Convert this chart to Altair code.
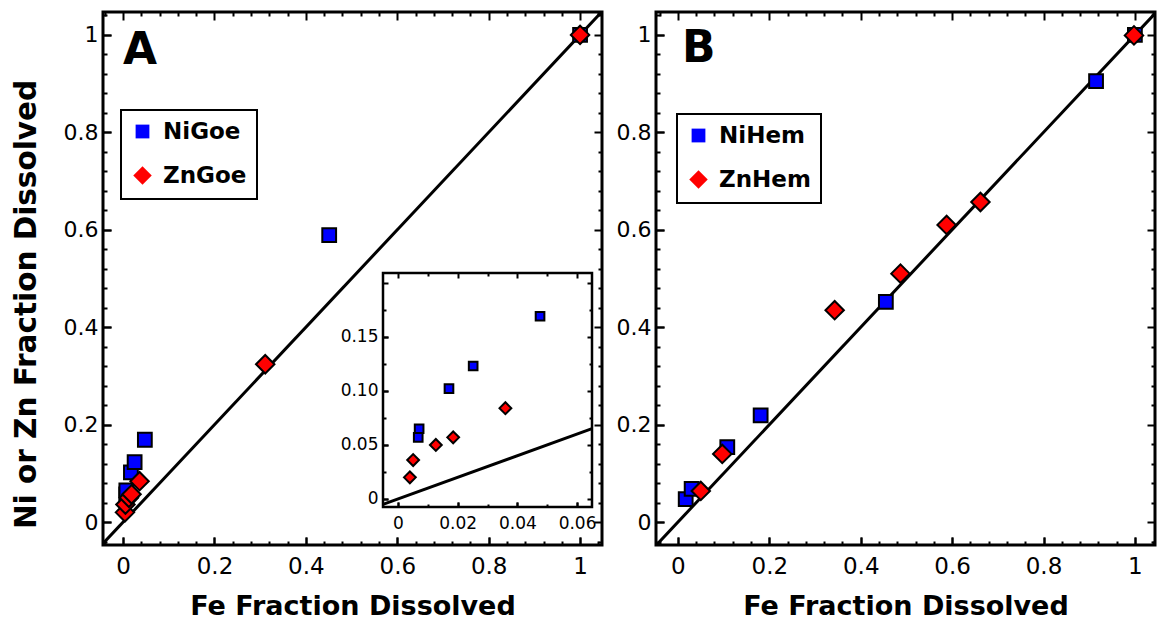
import altair as alt
import pandas as pd

FONT = "DejaVu Sans"

# ---------------- data ----------------
goe_ni_x = [0.0068, 0.0071, 0.0171, 0.0252, 0.0476, 0.451, 1.0]
goe_ni_y = [0.057, 0.065, 0.102, 0.123, 0.169, 0.589, 1.0]
goe_zn_x = [0.0040, 0.0051, 0.0127, 0.0185, 0.036, 0.311, 1.0]
goe_zn_y = [0.020, 0.036, 0.050, 0.057, 0.084, 0.324, 1.0]

hem_ni_x = [0.017, 0.030, 0.108, 0.181, 0.455, 0.915, 1.0]
hem_ni_y = [0.047, 0.068, 0.154, 0.219, 0.452, 0.905, 1.0]
hem_zn_x = [0.050, 0.097, 0.343, 0.487, 0.588, 0.662, 0.998]
hem_zn_y = [0.064, 0.140, 0.435, 0.510, 0.610, 0.657, 0.999]

series_a = ["NiGoe", "ZnGoe"]
series_b = ["NiHem", "ZnHem"]

one_to_one = [-0.1, 1.1]
inset_one_to_one = [-0.005, 0.065]

main_major = [0, 0.2, 0.4, 0.6, 0.8, 1]
main_ticks = [round(-0.04 + 0.04 * i, 2) for i in range(28)]
inset_x_major = [0, 0.02, 0.04, 0.06]
inset_y_major = [0, 0.05, 0.10, 0.15]
inset_x_ticks = [round(0.01 * i, 2) for i in range(7)]
inset_y_ticks = [round(0.025 * i, 3) for i in range(9)]

# ---------------- layout constants ----------------
W, H = 499, 533
A_X = [-0.044, 1.048]
B_X = [-0.048, 1.044]
MAIN_Y = [-0.047, 1.047]
INSET_X = [-0.005, 0.065]
INSET_Y = [-0.0074, 0.209]
INSET_XR = [280, 489]
INSET_YR = [495, 261]

MAJ_MAIN = "abs(datum.value * 5 - round(datum.value * 5)) < 0.001"
MAJ_IX = "abs(datum.value * 50 - round(datum.value * 50)) < 0.001"
MAJ_IY = "abs(datum.value * 20 - round(datum.value * 20)) < 0.001"


def tick_axis(orient, values, size_expr, show_labels=False, title=None,
              font_size=22, label_padding=16, offset=0, title_size=28, **extra):
    args = dict(
        orient=orient, values=values, domain=False, grid=False,
        ticks=True, tickColor="black", tickWidth=2,
        tickSize={"expr": size_expr},
        labels=show_labels, offset=offset, title=title, zindex=1,
    )
    if show_labels:
        args.update(labelFont=FONT, labelFontSize=font_size,
                    labelColor="black", labelPadding=label_padding,
                    labelFlush=False, labelOverlap=False)
    if title:
        args.update(titleFont=FONT, titleFontSize=title_size,
                    titleFontWeight="bold", titleColor="black")
    args.update(extra)
    return alt.Axis(**args)


def cond(maj, big, small):
    return f"({maj}) ? {-big} : {-small}"


def scale(dom, rng=None):
    if rng is None:
        return alt.Scale(domain=dom, nice=False, zero=False)
    return alt.Scale(domain=dom, range=rng, nice=False, zero=False)


def points_df(nx, ny, zx, zy, names):
    rows = []
    for x, y in zip(nx, ny):
        rows.append({"x": x, "y": y, "series": names[0], "ord": 0})
    for x, y in zip(zx, zy):
        rows.append({"x": x, "y": y, "series": names[1], "ord": 1})
    return pd.DataFrame(rows)


def panel(nx, ny, zx, zy, names, x_dom, letter, letter_xy, legend_xy,
          y_title=None, inset=False):
    xs = scale(x_dom)
    ys = scale(MAIN_Y)
    left_extra = {}
    if y_title:
        left_extra = dict(titlePadding=22, titleY=292)
    line = alt.Chart(pd.DataFrame({"x": one_to_one, "y": one_to_one})).mark_line(
        color="black", strokeWidth=3, clip=True
    ).encode(
        x=alt.X("x:Q", scale=xs,
                axis=tick_axis("bottom", main_major, "-8", True,
                               "Fe Fraction Dissolved", 23, 18,
                               title_size=27, format="~g", titlePadding=15)),
        y=alt.Y("y:Q", scale=ys,
                axis=tick_axis("left", main_major, "-8", True,
                               y_title, 22, 13, title_size=29.5,
                               format="~g", **left_extra)),
    )
    leg = alt.Legend(orient="none", legendX=legend_xy[0], legendY=legend_xy[1],
                     title=None, strokeColor="black", fillColor="white",
                     padding=10, labelFont=FONT, labelFontSize=23,
                     labelFontWeight="bold", labelColor="black", labelOffset=9,
                     rowPadding=18, symbolStrokeColor="black",
                     symbolStrokeWidth=2, symbolOpacity=1)
    df = points_df(nx, ny, zx, zy, names)
    pts = alt.Chart(df).mark_point(
        filled=True, opacity=1, strokeWidth=2, stroke="black"
    ).encode(
        x=alt.X("x:Q", scale=xs,
                axis=tick_axis("top", main_ticks, cond(MAJ_MAIN, 8, 4))),
        y=alt.Y("y:Q", scale=ys,
                axis=tick_axis("right", main_ticks, cond(MAJ_MAIN, 8, 4))),
        fill=alt.Fill("series:N", scale=alt.Scale(domain=names, range=["#0000ff", "#ff0000"]), legend=leg),
        shape=alt.Shape("series:N", scale=alt.Scale(domain=names, range=["square", "diamond"]), legend=leg),
        size=alt.Size("series:N", scale=alt.Scale(domain=names, range=[190, 340]), legend=leg),
        stroke=alt.value("black"),
        order=alt.Order("ord:Q"),
    )
    txt = alt.Chart(pd.DataFrame({"x": [letter_xy[0]], "y": [letter_xy[1]], "t": [letter]})).mark_text(
        font=FONT, fontSize=44, fontWeight="bold", align="left", baseline="alphabetic", color="black"
    ).encode(
        x=alt.X("x:Q", scale=xs,
                axis=tick_axis("bottom", main_ticks, cond(MAJ_MAIN, 8, 4))),
        y=alt.Y("y:Q", scale=ys,
                axis=tick_axis("left", main_ticks, cond(MAJ_MAIN, 8, 4))),
        text="t:N",
    )
    layers = [line, pts, txt]
    if inset:
        ixs = scale(INSET_X, INSET_XR)
        iys = scale(INSET_Y, INSET_YR)
        lab = "datum.value == 0 ? '0' : format(datum.value, '.2f')"
        off_bottom = -(H - INSET_YR[0])
        off_left = -INSET_XR[0]
        off_top = -INSET_YR[1]
        off_right = -(W - INSET_XR[1])
        frame = alt.Chart(pd.DataFrame({"x0": [INSET_X[0]], "x1": [INSET_X[1]],
                                        "y0": [INSET_Y[0]], "y1": [INSET_Y[1]]})).mark_rect(
            fill="white", stroke="black", strokeWidth=2.5
        ).encode(
            x=alt.X("x0:Q", scale=ixs,
                    axis=tick_axis("bottom", inset_x_major, "-5", True, None,
                                   17, 13, offset=off_bottom, labelExpr=lab)),
            x2="x1:Q",
            y=alt.Y("y0:Q", scale=iys,
                    axis=tick_axis("left", inset_y_major, "-5", True, None,
                                   17, 10, offset=off_left, labelExpr=lab)),
            y2="y1:Q",
        )
        iline = alt.Chart(pd.DataFrame({"x": inset_one_to_one, "y": inset_one_to_one})).mark_line(
            color="black", strokeWidth=3
        ).encode(
            x=alt.X("x:Q", scale=ixs,
                    axis=tick_axis("top", inset_x_ticks, cond(MAJ_IX, 5, 3), offset=off_top)),
            y=alt.Y("y:Q", scale=iys,
                    axis=tick_axis("right", inset_y_ticks, cond(MAJ_IY, 5, 3), offset=off_right)),
        )
        idf = df[df["x"] < 0.065]
        ipts = alt.Chart(idf).mark_point(
            filled=True, opacity=1, stroke="black", strokeWidth=2
        ).encode(
            x=alt.X("x:Q", scale=ixs,
                    axis=tick_axis("bottom", inset_x_ticks, cond(MAJ_IX, 5, 3), offset=off_bottom)),
            y=alt.Y("y:Q", scale=iys,
                    axis=tick_axis("left", inset_y_ticks, cond(MAJ_IY, 5, 3), offset=off_left)),
            fill=alt.Fill("series:N", scale=alt.Scale(domain=names, range=["#0000ff", "#ff0000"]), legend=None),
            shape=alt.Shape("series:N", scale=alt.Scale(domain=names, range=["square", "diamond"]), legend=None),
            size=alt.Size("series:N", scale=alt.Scale(domain=names, range=[75, 140]), legend=None),
            order=alt.Order("ord:Q"),
        )
        layers += [frame, iline, ipts]
    return alt.layer(*layers).resolve_scale(
        x="independent", y="independent", fill="independent",
        shape="independent", size="independent"
    ).resolve_axis(x="independent", y="independent").resolve_legend(
        fill="independent", shape="independent", size="independent"
    ).properties(width=W, height=H)


panel_a = panel(goe_ni_x, goe_ni_y, goe_zn_x, goe_zn_y, series_a, A_X, "A",
                (0.0, 0.94), (18, 98), y_title="Ni or Zn Fraction Dissolved", inset=True)
panel_b = panel(hem_ni_x, hem_ni_y, hem_zn_x, hem_zn_y, series_b, B_X, "B",
                (0.009, 0.945), (21, 102))

chart = alt.hconcat(panel_a, panel_b, spacing=9).resolve_scale(
    fill="independent", shape="independent", size="independent"
).resolve_legend(
    fill="independent", shape="independent", size="independent"
).properties(
    padding={"left": 9, "top": 9, "right": 2, "bottom": 2},
    background="white",
).configure_view(stroke="black", strokeWidth=3).configure_legend(strokeWidth=2)

chart.save("out.html", embed_options={"renderer": "svg", "actions": False})
